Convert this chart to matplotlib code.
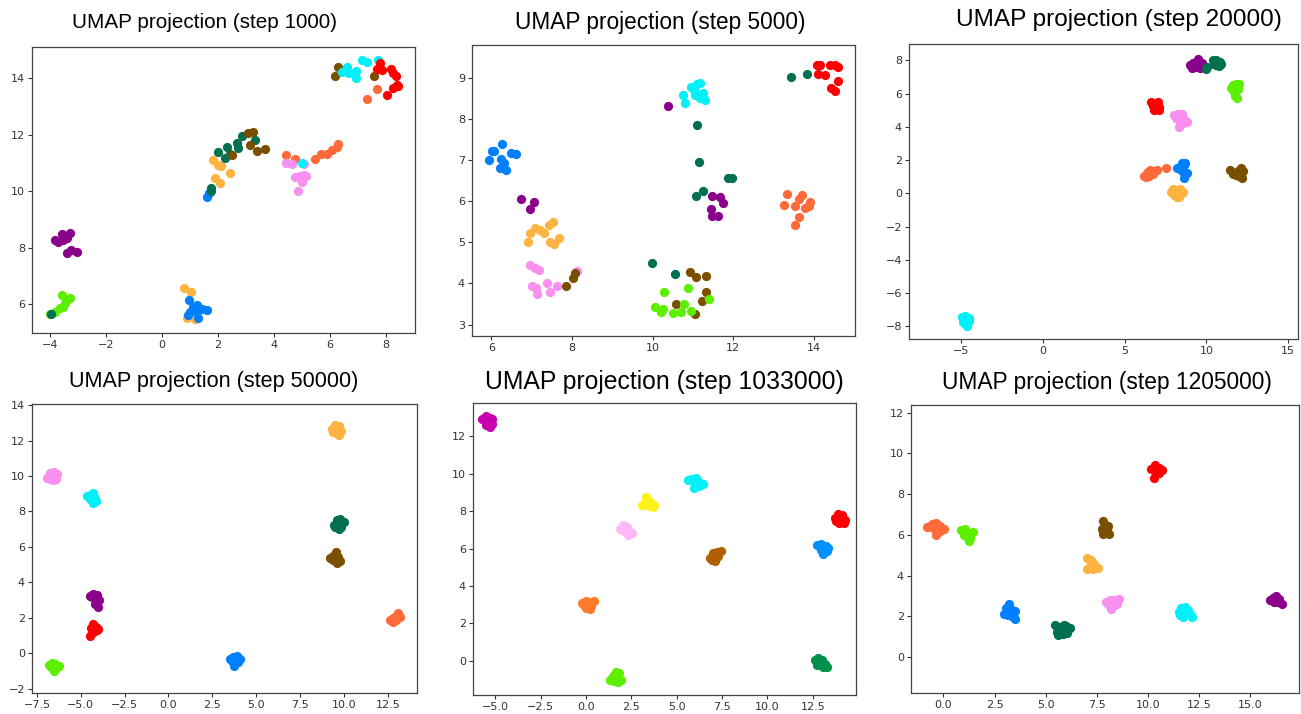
import matplotlib
matplotlib.use("Agg")
import matplotlib.pyplot as plt

# class colours (UMAP label -> colour)
COLORS = {
    "purple": "#8b008b",
    "lime": "#5cf000",
    "darkgreen": "#007050",
    "orange": "#ffb340",
    "blue": "#0080ff",
    "brown": "#7a5000",
    "cyan": "#00f0f8",
    "red": "#ff0000",
    "tomato": "#ff6a3a",
    "violet": "#f990f0",
    "magenta": "#c800b0",
    "yellow": "#fff21a",
    "lightpink": "#ffb8f8",
    "orange2": "#ff7a2a",
    "brown2": "#b06000",
    "green2": "#00904a",
    "blue2": "#0090ff",
}

titles = [
    "UMAP projection (step 1000)",
    "UMAP projection (step 5000)",
    "UMAP projection (step 20000)",
    "UMAP projection (step 50000)",
    "UMAP projection (step 1033000)",
    "UMAP projection (step 1205000)",
]

step1000 = {
    "purple": [(-3.82, 8.27), (-3.58, 8.47), (-3.29, 8.50), (-3.40, 8.33), (-3.70, 8.21),
               (-3.40, 7.79), (-3.23, 7.91), (-3.05, 7.83), (-3.52, 8.27)],
    "lime": [(-4.0, 5.64), (-3.82, 5.73), (-3.64, 5.84), (-3.52, 5.90), (-3.58, 6.32),
             (-3.40, 6.14), (-3.29, 6.20), (-3.46, 6.02)],
    "orange": [(0.80, 6.55), (1.04, 6.41), (0.88, 5.49), (1.18, 5.45),
               (1.81, 11.10), (2.01, 10.93), (2.10, 10.90), (1.89, 10.45), (2.07, 10.28), (2.43, 10.63)],
    "blue": [(0.96, 6.14), (1.12, 5.90), (1.26, 5.96), (1.42, 5.81), (1.00, 5.73), (1.24, 5.73),
             (1.30, 5.51), (0.94, 5.61), (1.60, 5.78), (1.62, 9.80), (1.69, 9.92)],
    "darkgreen": [(-3.96, 5.63), (1.74, 10.10), (1.77, 10.00), (1.99, 11.40), (2.31, 11.58), (2.25, 11.19),
                  (2.67, 11.72), (2.73, 11.52), (2.85, 11.96), (3.32, 11.81), (2.43, 11.30)],
    "brown": [(3.08, 12.05), (3.24, 12.11), (3.14, 11.64), (3.38, 11.42), (3.68, 11.48), (2.49, 11.28),
              (6.30, 14.39), (6.20, 14.08), (7.57, 14.08)],
    "tomato": [(4.43, 11.28), (4.75, 11.14), (5.46, 11.14), (5.67, 11.32), (5.88, 11.32), (6.06, 11.46),
               (6.24, 11.58), (6.30, 11.66), (7.70, 13.62), (7.31, 13.27)],
    "violet": [(4.45, 11.01), (4.63, 10.95), (4.75, 10.51), (4.93, 10.53), (5.07, 10.57), (4.99, 10.34),
               (5.14, 10.53), (4.87, 10.00), (5.07, 10.95)],
    "cyan": [(4.99, 11.01), (6.60, 14.41), (6.45, 14.24), (6.68, 14.20), (6.93, 14.27), (6.95, 14.00),
             (7.13, 14.65), (7.31, 14.59), (7.73, 14.65)],
    "red": [(7.79, 14.56), (7.70, 14.32), (7.85, 14.30), (8.20, 14.32), (8.26, 14.18), (8.36, 14.08),
            (8.24, 13.65), (8.38, 13.77), (8.44, 13.73), (8.05, 13.41)],
}

step5000 = {
    "blue": [(5.93, 7.02), (6.02, 7.23), (6.07, 7.23), (6.26, 7.39), (6.25, 7.04), (6.21, 6.82),
             (6.37, 6.76), (6.49, 7.18), (6.60, 7.15), (6.31, 6.94)],
    "purple": [(6.74, 6.05), (6.95, 5.81), (7.07, 5.99), (10.37, 8.33), (11.47, 6.13), (11.68, 6.11),
               (11.74, 5.97), (11.45, 5.81), (11.47, 5.65), (11.61, 5.65)],
    "orange": [(6.90, 5.00), (6.97, 5.24), (7.09, 5.34), (7.20, 5.30), (7.31, 5.23), (7.42, 5.42),
               (7.52, 5.50), (7.46, 5.01), (7.55, 4.95), (7.69, 5.11)],
    "violet": [(6.97, 4.44), (7.09, 4.38), (7.19, 4.32), (7.00, 3.94), (7.11, 3.88), (7.14, 3.74),
               (7.38, 4.00), (7.46, 3.78), (7.63, 3.94), (8.12, 4.31)],
    "brown": [(7.86, 3.93), (8.02, 4.13), (8.08, 4.26), (10.93, 4.27), (11.08, 4.16), (11.33, 4.18),
              (11.33, 3.78), (11.22, 3.57), (10.59, 3.49), (11.06, 3.25)],
    "cyan": [(10.75, 8.58), (10.81, 8.40), (10.95, 8.79), (11.02, 8.71), (11.10, 8.87), (11.18, 8.89),
             (11.26, 8.64), (11.30, 8.48), (11.18, 8.52), (11.06, 8.60)],
    "darkgreen": [(11.10, 7.86), (11.14, 6.97), (11.88, 6.56), (11.96, 6.56), (11.07, 6.13), (11.26, 6.25),
                  (13.43, 9.02), (13.83, 9.10), (9.99, 4.51), (10.55, 4.22)],
    "red": [(14.07, 9.32), (14.15, 9.32), (14.40, 9.32), (14.53, 9.32), (14.59, 9.28), (14.10, 9.10),
            (14.28, 9.07), (14.59, 8.93), (14.43, 8.77), (14.53, 8.69)],
    "tomato": [(13.33, 6.19), (13.26, 5.92), (13.54, 5.89), (13.63, 6.07), (13.71, 6.15), (13.64, 5.62),
               (13.54, 5.42), (13.79, 5.83), (13.87, 5.89), (13.91, 5.99)],
    "lime": [(10.29, 3.78), (10.87, 3.90), (10.07, 3.42), (10.21, 3.31), (10.26, 3.37), (10.50, 3.29),
             (10.70, 3.31), (10.79, 3.49), (10.95, 3.33), (11.39, 3.62)],
}

step20000 = {
    "cyan": [(-4.95, -7.45), (-4.75, -7.35), (-4.55, -7.5), (-4.5, -7.7), (-4.9, -7.75), (-4.7, -7.6),
             (-4.65, -7.95), (-4.8, -7.85), (-4.55, -7.55)],
    "purple": [(9.0, 7.7), (9.1, 7.55), (9.3, 7.6), (9.4, 7.8), (9.5, 8.05), (9.55, 7.7), (9.7, 7.85),
               (9.85, 7.65), (9.2, 7.85), (9.6, 7.55)],
    "darkgreen": [(9.95, 7.45), (10.05, 7.6), (10.4, 8.0), (10.6, 8.0), (10.8, 7.9), (10.9, 7.75),
                  (10.6, 7.7), (10.45, 7.8), (10.75, 7.65)],
    "lime": [(11.5, 6.35), (11.65, 6.5), (11.8, 6.6), (12.0, 6.55), (11.7, 6.1), (11.75, 5.85),
             (11.85, 5.75), (11.9, 6.3)],
    "red": [(6.6, 5.5), (6.8, 5.3), (7.05, 5.5), (7.1, 5.2), (6.8, 5.0), (7.1, 5.0), (6.95, 5.15), (6.7, 5.25)],
    "violet": [(8.0, 4.7), (8.25, 4.8), (8.5, 4.75), (8.3, 4.5), (8.6, 4.45), (8.8, 4.3), (8.4, 4.2),
               (8.3, 4.0), (8.55, 4.25), (8.15, 4.55)],
    "tomato": [(6.15, 1.05), (6.3, 1.0), (6.4, 1.3), (6.55, 1.4), (6.5, 1.05), (6.7, 1.15), (6.85, 1.35),
               (7.0, 1.4), (6.35, 1.2), (7.5, 1.55)],
    "blue": [(8.2, 1.55), (8.4, 1.6), (8.5, 1.85), (8.6, 1.7), (8.7, 1.85), (8.5, 1.35), (8.7, 1.25),
             (8.6, 0.95), (8.8, 1.2), (8.45, 1.5)],
    "orange": [(7.8, 0.1), (7.95, 0.25), (8.1, 0.15), (8.3, -0.2), (8.5, 0.0), (8.4, 0.25), (8.0, -0.1),
               (8.2, -0.25), (8.55, 0.1)],
    "brown": [(11.45, 1.4), (11.6, 1.15), (11.8, 1.1), (12.0, 1.25), (12.1, 1.5), (12.25, 1.35),
              (12.2, 0.9), (11.9, 1.35), (12.0, 1.05)],
}

step50000 = {
    "violet": [(-6.9, 9.9), (-6.75, 10.15), (-6.5, 10.2), (-6.35, 10.1), (-6.4, 9.85), (-6.6, 9.75),
               (-6.75, 9.85), (-6.55, 10.0)],
    "cyan": [(-4.65, 8.85), (-4.45, 8.95), (-4.3, 9.05), (-4.2, 8.75), (-4.15, 8.6), (-4.3, 8.45),
             (-4.5, 8.7), (-4.4, 8.8)],
    "purple": [(-4.5, 3.25), (-4.3, 3.35), (-4.05, 3.3), (-4.2, 3.05), (-3.95, 3.0), (-4.2, 2.8),
               (-4.0, 2.6), (-4.35, 3.2)],
    "red": [(-4.3, 1.65), (-4.15, 1.5), (-4.0, 1.35), (-4.2, 1.25), (-4.35, 1.15), (-4.5, 1.0),
            (-4.4, 1.4), (-4.1, 1.3)],
    "lime": [(-6.8, -0.65), (-6.65, -0.55), (-6.45, -0.6), (-6.25, -0.7), (-6.4, -0.85), (-6.55, -1.0),
             (-6.7, -0.8), (-6.5, -0.7)],
    "blue": [(3.5, -0.3), (3.7, -0.2), (3.9, -0.15), (4.1, -0.35), (3.95, -0.5), (3.75, -0.7),
             (3.6, -0.45), (3.85, -0.35)],
    "orange": [(9.3, 12.65), (9.5, 12.85), (9.7, 12.8), (9.85, 12.55), (9.75, 12.3), (9.55, 12.4),
               (9.4, 12.5), (9.65, 12.6)],
    "darkgreen": [(9.45, 7.25), (9.6, 7.5), (9.8, 7.6), (10.0, 7.4), (9.85, 7.15), (9.7, 7.0),
                  (9.5, 7.1), (9.75, 7.3)],
    "brown": [(9.2, 5.4), (9.4, 5.5), (9.55, 5.7), (9.65, 5.45), (9.8, 5.2), (9.6, 5.1), (9.4, 5.25),
              (9.5, 5.35)],
    "tomato": [(12.65, 1.85), (12.8, 2.0), (12.95, 2.1), (13.1, 2.25), (13.2, 2.05), (13.0, 1.85),
               (12.8, 1.75), (12.95, 1.95)],
}

step1033000 = {
    "magenta": [(-5.7, 12.95), (-5.5, 13.1), (-5.3, 13.0), (-5.15, 12.9), (-5.2, 12.65), (-5.3, 12.5),
                (-5.5, 12.6), (-5.45, 12.8)],
    "yellow": [(3.1, 8.35), (3.3, 8.75), (3.45, 8.55), (3.6, 8.45), (3.75, 8.35), (3.7, 8.2),
               (3.45, 8.3), (3.25, 8.45)],
    "cyan": [(5.6, 9.65), (5.8, 9.7), (6.05, 9.75), (6.2, 9.6), (6.45, 9.45), (6.0, 9.4), (5.95, 9.25),
             (6.25, 9.35)],
    "lightpink": [(1.9, 7.05), (2.05, 7.25), (2.25, 7.15), (2.35, 6.95), (2.55, 6.85), (2.3, 6.75),
                  (2.1, 6.95), (2.2, 7.05)],
    "brown2": [(6.85, 5.5), (7.0, 5.75), (7.2, 5.8), (7.45, 5.85), (7.3, 5.6), (7.1, 5.35), (6.95, 5.4),
               (7.2, 5.55)],
    "red": [(13.7, 7.65), (13.9, 7.85), (14.1, 7.8), (14.3, 7.55), (14.2, 7.35), (13.95, 7.35),
            (13.8, 7.5), (14.05, 7.6)],
    "blue2": [(12.75, 6.2), (12.95, 6.25), (13.2, 6.15), (13.35, 6.05), (13.3, 5.85), (13.05, 5.7),
              (12.95, 5.9), (13.15, 6.0)],
    "orange2": [(-0.2, 3.1), (0.0, 3.2), (0.2, 3.15), (0.45, 3.2), (0.3, 2.95), (0.2, 2.75), (0.0, 2.85),
                (-0.1, 3.0)],
    "lime": [(1.3, -1.0), (1.5, -0.8), (1.65, -0.6), (1.8, -0.65), (1.95, -1.0), (1.75, -1.1),
             (1.55, -1.05), (1.7, -0.9)],
    "green2": [(12.6, 0.05), (12.8, 0.15), (13.0, 0.05), (13.15, -0.15), (13.3, -0.35), (13.05, -0.3),
               (12.75, -0.2), (12.9, -0.05)],
}

step1205000 = {
    "tomato": [(-0.8, 6.4), (-0.55, 6.55), (-0.35, 6.6), (-0.15, 6.45), (0.05, 6.3), (-0.15, 6.2),
               (-0.35, 6.0), (-0.5, 6.35), (-0.25, 6.35)],
    "lime": [(0.85, 6.25), (1.05, 6.3), (1.2, 6.1), (1.45, 6.15), (1.3, 5.85), (1.25, 5.7), (1.0, 6.0),
             (1.1, 5.95)],
    "blue": [(2.95, 2.1), (3.05, 2.4), (3.2, 2.6), (3.35, 2.3), (3.5, 2.25), (3.4, 1.95), (3.5, 1.85),
             (3.15, 2.05)],
    "darkgreen": [(5.45, 1.55), (5.55, 1.25), (5.7, 1.45), (5.9, 1.55), (6.05, 1.2), (6.2, 1.4),
                  (5.85, 1.15), (5.6, 1.1), (6.0, 1.5)],
    "orange": [(7.0, 4.85), (7.2, 4.75), (7.35, 4.55), (7.15, 4.45), (7.0, 4.3), (7.3, 4.3), (7.55, 4.35),
               (7.25, 4.6)],
    "brown": [(7.8, 6.7), (7.9, 6.5), (8.05, 6.45), (7.75, 6.3), (8.0, 6.2), (7.8, 6.05), (8.1, 6.05),
              (7.95, 6.3)],
    "violet": [(7.95, 2.7), (8.15, 2.8), (8.35, 2.8), (8.6, 2.85), (8.5, 2.6), (8.3, 2.5), (8.2, 2.35),
               (8.05, 2.6)],
    "red": [(10.15, 9.25), (10.35, 9.45), (10.55, 9.3), (10.7, 9.2), (10.55, 9.05), (10.35, 9.15),
            (10.3, 8.8), (10.45, 9.2)],
    "cyan": [(11.5, 2.2), (11.6, 2.4), (11.8, 2.45), (11.95, 2.3), (12.05, 2.1), (12.15, 1.95),
             (11.7, 1.95), (11.85, 2.15), (11.55, 2.05)],
    "purple": [(15.95, 2.8), (16.1, 2.9), (16.25, 3.0), (16.4, 2.85), (16.55, 2.6), (16.35, 2.7),
               (16.15, 2.7), (16.25, 2.8)],
}

panels = [step1000, step5000, step20000, step50000, step1033000, step1205000]

# axes boxes in pixels (left, top, right, bottom) and limits
boxes = [
    (32, 47, 415, 333), (472, 45, 855, 336), (909, 44, 1298, 339),
    (32, 404, 417, 693), (473, 403, 856, 695), (911, 405, 1299, 693),
]
limits = [
    ((-4.64, 9.04), (4.97, 15.11)),
    ((5.52, 15.02), (2.72, 9.81)),
    ((-8.2, 15.6), (-8.76, 8.98)),
    ((-7.78, 14.17), (-2.24, 14.06)),
    ((-6.22, 14.88), (-1.82, 13.78)),
    ((-1.58, 17.37), (-1.77, 12.38)),
]
xticks = [
    [-4, -2, 0, 2, 4, 6, 8],
    [6, 8, 10, 12, 14],
    [-5, 0, 5, 10, 15],
    [-7.5, -5, -2.5, 0, 2.5, 5, 7.5, 10, 12.5],
    [-5, -2.5, 0, 2.5, 5, 7.5, 10, 12.5],
    [0, 2.5, 5, 7.5, 10, 12.5, 15],
]
yticks = [
    [6, 8, 10, 12, 14],
    [3, 4, 5, 6, 7, 8, 9],
    [-8, -6, -4, -2, 0, 2, 4, 6, 8],
    [-2, 0, 2, 4, 6, 8, 10, 12, 14],
    [0, 2, 4, 6, 8, 10, 12],
    [0, 2, 4, 6, 8, 10, 12],
]
# title placement (centre x in px, centre y in px, font size)
title_pos = [(205, 22, 14.9), (660, 22, 16.3), (1119, 20, 17.6),
             (214, 382, 15.6), (664, 382, 17.8), (1107, 382, 16.4)]

W, H = 1301, 714
fig = plt.figure(figsize=(W / 100, H / 100), dpi=100)

for i, data in enumerate(panels):
    l, t, r, b = boxes[i]
    ax = fig.add_axes([l / W, 1 - b / H, (r - l) / W, (b - t) / H])
    for name, pts in data.items():
        xs = [p[0] for p in pts]
        ys = [p[1] for p in pts]
        ax.scatter(xs, ys, s=44, color=COLORS[name], linewidths=0)
    ax.set_xlim(*limits[i][0])
    ax.set_ylim(*limits[i][1])
    ax.set_xticks(xticks[i])
    ax.set_yticks(yticks[i])
    ax.tick_params(labelsize=8, length=3, width=0.8, colors="#333333", pad=2)
    for spine in ax.spines.values():
        spine.set_color("#444444")
        spine.set_linewidth(0.9)
    tx, ty, fs = title_pos[i]
    fig.text(tx / W, 1 - ty / H, titles[i], ha="center", va="center",
             fontsize=fs, family="Liberation Sans")

fig.savefig("out.png", dpi=100)
